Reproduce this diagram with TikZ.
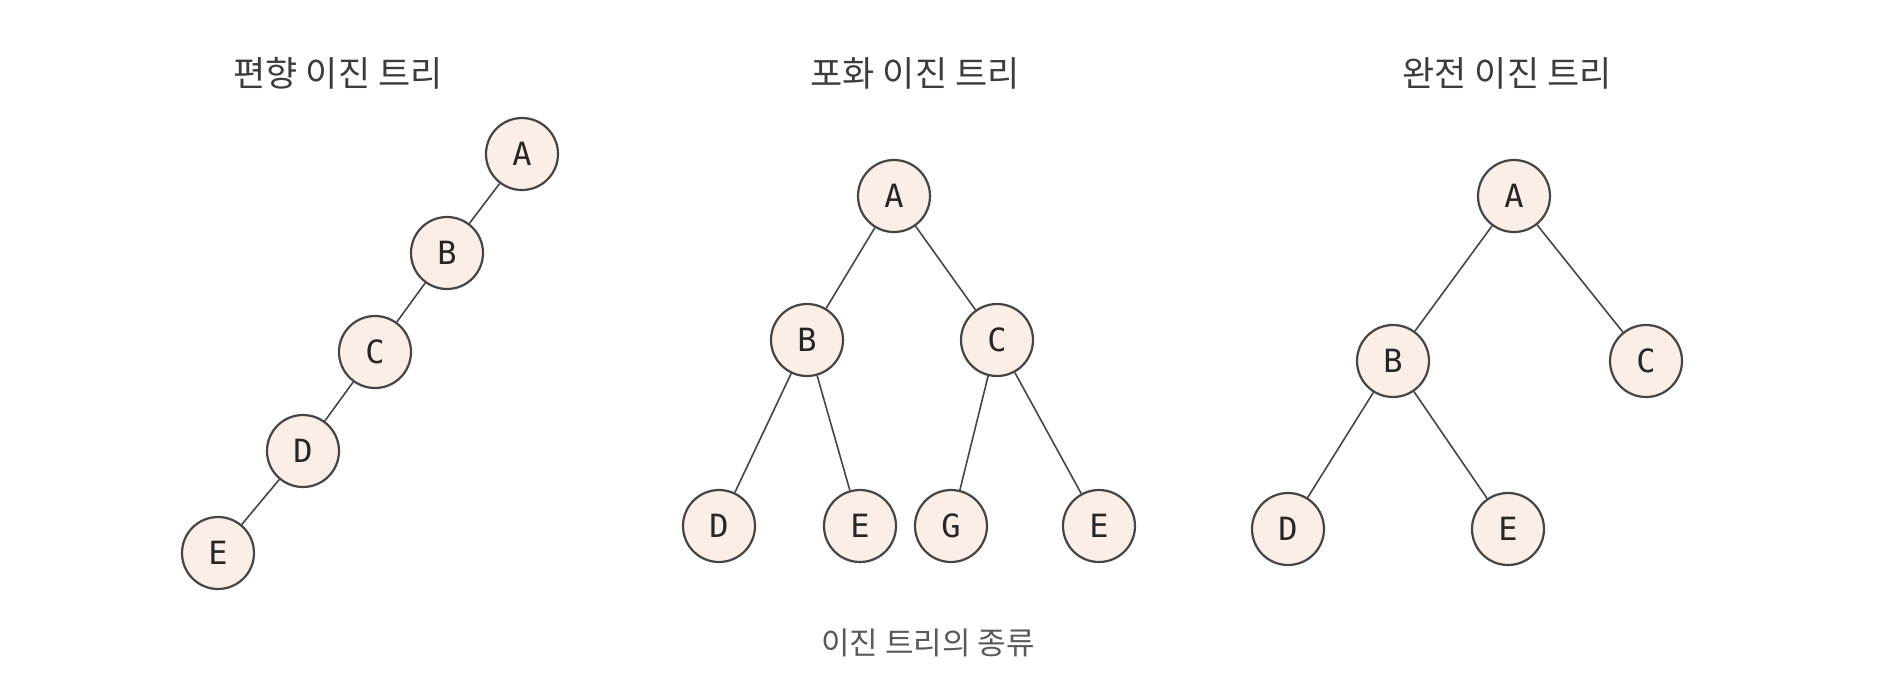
\documentclass[tikz,border=0pt]{standalone}
\usepackage{fontspec}
\newfontfamily\krfont{Noto Sans CJK KR}
\newfontfamily\keyfont{DejaVu Sans Mono}
\definecolor{nodefill}{HTML}{FAEEE6}
\definecolor{linegray}{HTML}{454545}
\definecolor{textgray}{HTML}{3C3C3C}
\begin{document}
\begin{tikzpicture}[
        x=0.5pt, y=-0.5pt,
        treenode/.style={
            draw=linegray,
            line width=1.1pt,
            circle,
            fill=nodefill,
            minimum size=36pt,
            inner sep=0pt,
            font=\keyfont\fontsize{16}{16}\selectfont,
            text=black!85
        },
        title/.style={
            font=\krfont\fontsize{17.5}{18}\selectfont,
            text=textgray
        },
        edge/.style={draw=linegray, line width=0.8pt}
    ]
    \useasboundingbox (0,0) rectangle (1886,676);

    % skewed tree
    \node[title, name=t1] at (338,73) {편향 이진 트리};
    \node[treenode, name=a1] at (522,154) {A};
    \node[treenode, name=b1] at (447,253) {B};
    \node[treenode, name=c1] at (375,352) {C};
    \node[treenode, name=d1] at (303,451) {D};
    \node[treenode, name=e1] at (218,553) {E};

    \draw[edge] (a1) -- (b1);
    \draw[edge] (b1) -- (c1);
    \draw[edge] (c1) -- (d1);
    \draw[edge] (d1) -- (e1);

    % full tree
    \node[title, name=t2] at (915,73) {포화 이진 트리};
    \node[treenode, name=a2] at (894,196) {A};
    \node[treenode, name=b2] at (807,340) {B};
    \node[treenode, name=c2] at (997,340) {C};
    \node[treenode, name=d2] at (719,526) {D};
    \node[treenode, name=e2] at (860,526) {E};
    \node[treenode, name=g2] at (951,526) {G};
    \node[treenode, name=f2] at (1099,526) {E};

    \draw[edge] (a2) -- (b2);
    \draw[edge] (a2) -- (c2);
    \draw[edge] (b2) -- (d2);
    \draw[edge] (b2) -- (e2);
    \draw[edge] (c2) -- (g2);
    \draw[edge] (c2) -- (f2);

    % complete tree
    \node[title, name=t3] at (1507,73) {완전 이진 트리};
    \node[treenode, name=a3] at (1514,196) {A};
    \node[treenode, name=b3] at (1393,361) {B};
    \node[treenode, name=c3] at (1646,361) {C};
    \node[treenode, name=d3] at (1288,529) {D};
    \node[treenode, name=e3] at (1508,529) {E};

    \draw[edge] (a3) -- (b3);
    \draw[edge] (a3) -- (c3);
    \draw[edge] (b3) -- (d3);
    \draw[edge] (b3) -- (e3);

    \node[
        font=\krfont\fontsize{15.5}{16}\selectfont,
        text=black!65,
        name=cap
    ] at (928,643) {이진 트리의 종류};
\end{tikzpicture}
\end{document}
